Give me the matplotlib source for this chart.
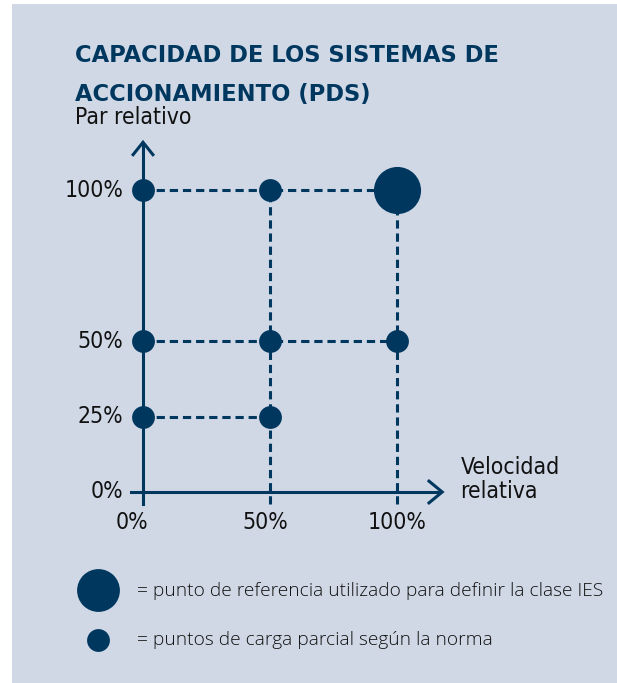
import matplotlib
matplotlib.use("Agg")
import matplotlib.pyplot as plt
from matplotlib.patches import Rectangle

# Chart data
speed = [0, 50, 0, 50, 100, 0, 50]          # relative speed (%)
torque = [25, 25, 50, 50, 50, 100, 100]     # relative torque (%)
ref_speed = [100]
ref_torque = [100]
x_ticks = [0, 50, 100]
x_tick_labels = ["0%", "50%", "100%"]
y_ticks = [0, 25, 50, 100]
y_tick_labels = ["0%", "25%", "50%", "100%"]

# horizontal dashed guides: (torque level, speed reached)
h_guides = [(25, 50), (50, 100), (100, 100)]
# vertical dashed guides: (speed level, torque reached)
v_guides = [(50, 100), (100, 100)]

navy = "#00375f"
panel = "#d0d8e6"
narrow = dict(family="DejaVu Sans", fontstretch="condensed")

W, H, DPI = 617, 683, 100
fig = plt.figure(figsize=(W / DPI, H / DPI), dpi=DPI, facecolor="white")
fig.patches.append(Rectangle((12 / W, 0), 1, 1 - 4 / H, transform=fig.transFigure,
                             facecolor=panel, edgecolor="none", zorder=-5))

# axes spans whole figure; data 0..100 -> px 143..397 (x), 492..190 (y)
ax = fig.add_axes([0, 0, 1, 1], zorder=2)
ax.set_facecolor("none")
x0, sx = 143, 2.54
y0, sy = 492, 3.02
ax.set_xlim((0 - x0) / sx, (W - x0) / sx)
ax.set_ylim((y0 - H) / sy, (y0 - 0) / sy)
ax.axis("off")

dash = dict(color=navy, lw=2.2, linestyle=(0, (2.7, 1.6)), zorder=2)
for lvl, reach in h_guides:
    ax.plot([0, reach], [lvl, lvl], **dash)
for lvl, reach in v_guides:
    ax.plot([lvl, lvl], [-4, reach], **dash)

# axes with arrows
ax.plot([0, 0], [-4, 115], color=navy, lw=2.2, zorder=3)
ax.plot([-4.7, 117], [0, 0], color=navy, lw=2.2, zorder=3)
ax.plot([-3.9, 0, 3.9], [111.7, 115.8, 111.7], color=navy, lw=2.2, zorder=3,
        solid_joinstyle="miter")
ax.plot([112.6, 117.8, 112.6], [-3.6, 0, 3.6], color=navy, lw=2.2, zorder=3,
        solid_joinstyle="miter")

ax.scatter(speed, torque, s=270, color=navy, zorder=4, linewidths=0)
ax.scatter(ref_speed, ref_torque, s=1150, color=navy, zorder=4, linewidths=0)

for v, lab in zip(y_ticks, y_tick_labels):
    ax.text(-7.8, v, lab, ha="right", va="center", fontsize=16.5,
            color="#111111", **narrow)
x_shift = [-4.3, -1.8, 0]
for v, lab, d in zip(x_ticks, x_tick_labels, x_shift):
    ax.text(v + d, -10, lab, ha="center", va="center", fontsize=16.5,
            color="#111111", **narrow)

ax.text(125, 4, "Velocidad\nrelativa", ha="left", va="center", fontsize=16.5,
        color="#111111", linespacing=1.05, **narrow)

fig.text(75 / W, 1 - 118 / H, "Par relativo", ha="left", va="center",
         fontsize=16.5, color="#111111", **narrow)
fig.text(75 / W, 1 - 55 / H, "CAPACIDAD DE LOS SISTEMAS DE", ha="left",
         va="center", fontsize=16.3, fontweight="bold", color=navy)
fig.text(75 / W, 1 - 94 / H, "ACCIONAMIENTO (PDS)", ha="left",
         va="center", fontsize=16.3, fontweight="bold", color=navy)

# legend
fig.text(137 / W, 1 - 591 / H, "= punto de referencia utilizado para definir la clase IES",
         ha="left", va="center", fontsize=13.8, family="Open Sans",
         fontweight="light", color="#111111")
fig.text(137 / W, 1 - 640 / H, "= puntos de carga parcial según la norma",
         ha="left", va="center", fontsize=13.8, family="Open Sans",
         fontweight="light", color="#111111")
ax.scatter([(98 - x0) / sx], [(y0 - 590) / sy], s=950, color=navy, linewidths=0)
ax.scatter([(98 - x0) / sx], [(y0 - 640) / sy], s=270, color=navy, linewidths=0)

fig.savefig("out.png", dpi=DPI, facecolor="white")
